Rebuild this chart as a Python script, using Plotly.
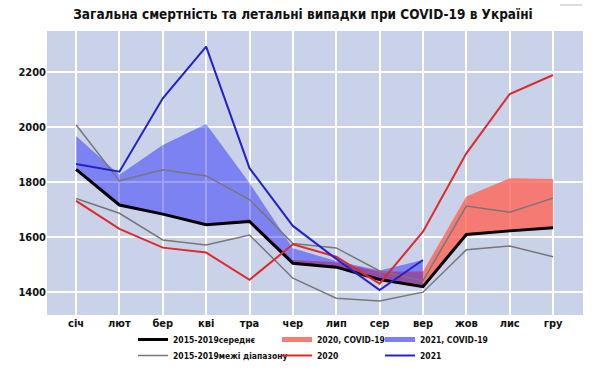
import plotly.graph_objects as go

months = ["січ", "лют", "бер", "кві", "тра", "чер", "лип", "сер", "вер", "жов", "лис", "гру"]
mean_2015_2019 = [1846, 1716, 1683, 1644, 1656, 1504, 1490, 1445, 1419, 1609, 1622, 1633]
range_max = [2008, 1804, 1844, 1822, 1736, 1576, 1560, 1476, 1440, 1712, 1690, 1741]
range_min = [1740, 1686, 1589, 1571, 1607, 1450, 1377, 1367, 1399, 1553, 1567, 1528]
deaths_2020 = [1731, 1629, 1561, 1543, 1444, 1573, 1528, 1430, 1619, 1904, 2120, 2189]
deaths_2021 = [1865, 1837, 2104, 2292, 1850, 1640, 1520, 1407, 1516]
covid_2020 = [None, None, 0, 5, 8, 12, 18, 29, 55, 138, 191, 178]
covid_2021 = [121, 110, 251, 367, 140, 55, 22, 33, 97]

FONT = "DejaVu Sans Condensed, DejaVu Sans"
fig = go.Figure()

# 2020 COVID fill (base = mean)
idx20 = [i for i, v in enumerate(covid_2020) if v is not None]
x20 = [months[i] for i in idx20]
base20 = [mean_2015_2019[i] for i in idx20]
top20 = [mean_2015_2019[i] + covid_2020[i] for i in idx20]
fig.add_trace(go.Scatter(x=x20, y=base20, mode="lines", line=dict(width=0),
                         showlegend=False, hoverinfo="skip"))
fig.add_trace(go.Scatter(x=x20, y=top20, mode="lines", line=dict(width=0),
                         fill="tonexty", fillcolor="rgba(255,100,85,0.8)",
                         showlegend=False))

# 2021 COVID fill (base = mean)
x21 = months[:len(covid_2021)]
base21 = mean_2015_2019[:len(covid_2021)]
top21 = [b + c for b, c in zip(base21, covid_2021)]
fig.add_trace(go.Scatter(x=x21, y=base21, mode="lines", line=dict(width=0),
                         showlegend=False, hoverinfo="skip"))
fig.add_trace(go.Scatter(x=x21, y=top21, mode="lines", line=dict(width=0),
                         fill="tonexty", fillcolor="rgba(0,0,255,0.38)",
                         showlegend=False))

# range lines
fig.add_trace(go.Scatter(x=months, y=range_max, mode="lines",
                         line=dict(color="#777777", width=1.5),
                         name="2015-2019межі діапазону", legend="legend2"))
fig.add_trace(go.Scatter(x=months, y=range_min, mode="lines",
                         line=dict(color="#777777", width=1.5),
                         showlegend=False))
# mean
fig.add_trace(go.Scatter(x=months, y=mean_2015_2019, mode="lines",
                         line=dict(color="black", width=3),
                         name="2015-2019середнє", legend="legend"))
# 2020 and 2021 lines
fig.add_trace(go.Scatter(x=months, y=deaths_2020, mode="lines",
                         line=dict(color="#dd2a2a", width=2),
                         name="2020", legend="legend4"))
fig.add_trace(go.Scatter(x=months[:len(deaths_2021)], y=deaths_2021, mode="lines",
                         line=dict(color="#2222cc", width=2),
                         name="2021", legend="legend6"))

# legend swatches for fills
fig.add_trace(go.Scatter(x=[None], y=[None], mode="lines",
                         line=dict(color="rgb(245,125,115)", width=5),
                         name="2020, COVID-19", legend="legend3"))
fig.add_trace(go.Scatter(x=[None], y=[None], mode="lines",
                         line=dict(color="rgb(125,125,245)", width=5),
                         name="2021, COVID-19", legend="legend5"))

W, H = 610, 379
L, R, T, B = 47, 583, 31, 315
pw, ph = R - L, B - T


def px(xpix):
    return (xpix - L) / pw


def py(ypix):
    return (B - ypix) / ph


leg_font = dict(family=FONT, size=8.5, color="#111111", weight="bold")


def leg(xpix, ypix):
    return dict(x=px(xpix), y=py(ypix), xanchor="left", yanchor="top",
                bgcolor="rgba(0,0,0,0)", font=leg_font, orientation="v")


row1, row2 = 325, 341
tick_font = dict(family=FONT, size=11, color="#111111", weight="bold")
fig.update_layout(
    width=W, height=H,
    margin=dict(l=L, r=W - R, t=T, b=H - B, autoexpand=False),
    paper_bgcolor="white",
    plot_bgcolor="#c9d2e8",
    title=dict(text="Загальна смертність та летальні випадки при COVID-19 в Україні",
               x=303 / W, xanchor="center", y=1 - 14 / H, yanchor="middle",
               yref="container", xref="container",
               font=dict(family=FONT, size=13.5, color="#111111", weight="bold")),
    xaxis=dict(type="category", categoryorder="array", categoryarray=months,
               range=[-0.67, 11.69], showgrid=True, gridcolor="white", gridwidth=1.5,
               zeroline=False, showline=False, ticks="", tickfont=tick_font),
    yaxis=dict(range=[1316, 2349], tickvals=[1400, 1600, 1800, 2000, 2200],
               showgrid=True, gridcolor="white", gridwidth=1.5, zeroline=False,
               ticks="", tickfont=tick_font),
    legend=leg(133, row1),
    legend2=leg(133, row2),
    legend3=leg(277, row1),
    legend4=leg(277, row2),
    legend5=leg(380, row1),
    legend6=leg(380, row2),
    shapes=[dict(type="line", xref="paper", yref="paper",
                 x0=px(560), x1=px(582), y0=py(5), y1=py(5),
                 line=dict(color="#bbbbbb", width=1))],
)

fig.write_html("out.html", config={"displayModeBar": False},
               post_script="document.body.style.margin='0';document.body.style.overflow='hidden';")
